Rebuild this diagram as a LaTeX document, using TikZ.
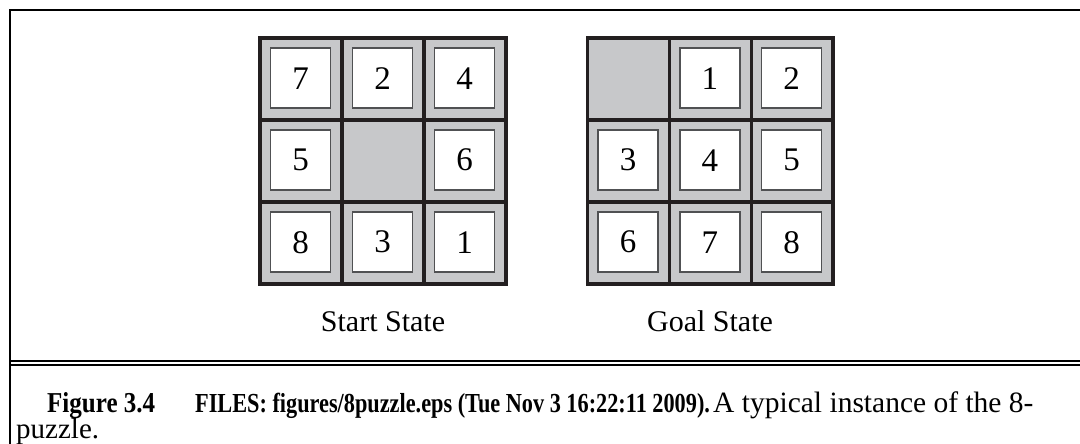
\documentclass[tikz,border=0pt]{standalone}
\usepackage{fontspec}
\setmainfont{Liberation Serif}
\definecolor{tilegray}{HTML}{C7C8CA}
\definecolor{gridblack}{HTML}{231F20}
\definecolor{tileedge}{HTML}{505153}
\begin{document}
\begin{tikzpicture}[x=1pt,y=-1pt,
  cellbg/.style={fill=tilegray,draw=none},
  gridline/.style={draw=gridblack,line width=3.3pt},
  tilebox/.style={draw=tileedge,fill=white,line width=1.5pt,minimum width=60pt,minimum height=60pt,inner sep=0pt,font=\fontsize{33}{33}\selectfont},
  lbl/.style={font=\fontsize{30}{30}\selectfont,anchor=base},
  captext/.style={font=\fontsize{29}{29}\selectfont,anchor=base west,inner sep=0pt},
  capbold/.style={font=\fontsize{27.5}{27.5}\selectfont\bfseries,anchor=base west,inner sep=0pt},
  frameline/.style={draw=black,line width=2.4pt}]
\useasboundingbox (0,0) rectangle (1080,444);
% frame
\draw[frameline] (10,444) -- (10,10) -- (1085,10);
\draw[frameline] (10,360.8) -- (1085,360.8);
\draw[frameline] (10,365.2) -- (1085,365.2);
% puzzles
\foreach \ox in {260,587.5}{
  \fill[cellbg] (\ox,38) rectangle ++(245.5,246);
}
% start state tiles
\foreach \r/\c/\t in {0/0/7,0/1/2,0/2/4,1/0/5,1/2/6,2/0/8,2/1/3,2/2/1}{
  \node[tilebox] (s\r\c) at ({260+41.2+82*\c-0.5},{38+41+82*\r-0.8}) {\t};
}
\foreach \r/\c/\t in {0/1/1,0/2/2,1/0/3,1/1/4,1/2/5,2/0/6,2/1/7,2/2/8}{
  \node[tilebox] (g\r\c) at ({587.5+41+81.8*\c-0.5},{38+41+82*\r-0.8}) {\t};
}
% grids
\draw[gridline] (260,38) rectangle (506,284);
\draw[gridline] (342,38) -- (342,284) (424,38) -- (424,284) (260,120) -- (506,120) (260,202) -- (506,202);
\draw[gridline] (587.5,38) rectangle (833,284);
\draw[gridline] (669.3,38) -- (669.3,284) (751.2,38) -- (751.2,284) (587.5,120) -- (833,120) (587.5,202) -- (833,202);
% labels
\node[lbl] (startlbl) at (383,331) {Start State};
\node[lbl] (goallbl) at (710,331) {Goal State};
% caption
\node[capbold] (c1) at (47,412) {\resizebox{108pt}{20pt}{Figure 3.4}};
\node[capbold] (c2) at (195,412) {\scalebox{0.81}[1]{FILES: figures/8puzzle.eps (Tue Nov 3 16:22:11 2009).}};
\node[captext] (c3) at (713,412) {\fontsize{29.5}{29.5}\selectfont A typical instance of the 8-};
\node[captext] (c4) at (16,438) {puzzle.};
\end{tikzpicture}
\end{document}
